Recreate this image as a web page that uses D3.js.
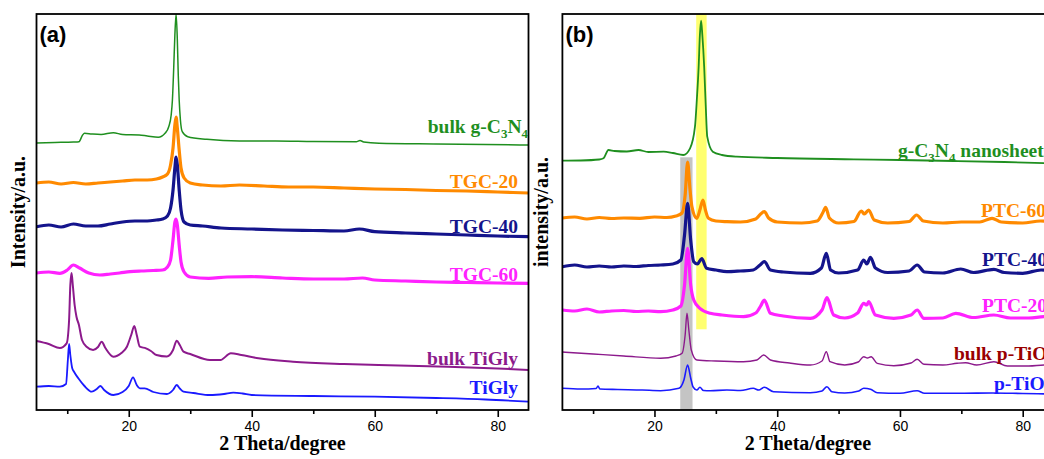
<!DOCTYPE html>
<html><head><meta charset="utf-8">
<script src="https://cdn.jsdelivr.net/npm/d3@7"></script>
<style>
html,body{margin:0;padding:0;background:#fff;overflow:hidden;}
svg{display:block;}
</style></head>
<body>
<svg id="chart" width="1044" height="459"></svg>
<script>
// ---------- DATA (2θ in degrees, intensity in arbitrary units) ----------
const thetaDomain = [5, 85];
const intensityDomain = [0, 396];
const majorTicks = [20, 40, 60, 80];
const minorTicks = [10, 30, 50, 70];

// Panel (a)
const bulkGCN_a = [[5,267],[8,267.5],[11,268],[11.9,268.3],[12.5,275],[12.8,276.7],[14,276],[15.5,275.5],[17.5,277.3],[19,275.5],[21.7,275],[23,274],[24.8,272.7],[25.9,276.7],[26.5,283.3],[26.9,295],[27.1,310],[27.3,340],[27.5,375],[27.7,396],[27.9,370],[28.05,335],[28.2,310],[28.4,290],[28.7,278.3],[29.6,273.3],[32.7,270.7],[38,269],[43.9,269],[50,268.5],[57,268.3],[57.6,269.5],[58.2,268],[60.7,266.7],[70,266],[78,265.5],[85,265]];
const tgc20_a = [[5,227],[7,228],[9,226],[11,227.5],[13,226],[15,227],[17,228],[19,229],[21,230],[23,230],[24.5,231],[25.5,233],[26.3,236],[26.8,245],[27.2,262],[27.5,285],[27.7,293],[27.9,282],[28.2,260],[28.5,242],[29,232],[30,227],[32,225],[35,224],[38,225],[42,224],[46,223],[50,223],[55,222],[60,221],[65,220.5],[70,219.5],[75,219],[80,218],[85,217]];
const tgc40_a = [[5,183.3],[7,185],[9,183],[11,186],[13,184],[15,184],[17,186],[19,188],[21,189],[23,189],[24.5,190],[25.5,191],[26.3,194],[26.8,202],[27.2,220],[27.5,242],[27.7,253],[27.9,245],[28.2,220],[28.5,200],[29,188],[30,185],[32,184],[35,182],[40,181],[45,180],[50,179.5],[55,179],[57.5,181],[60,178.3],[65,177],[70,176],[75,175],[80,174],[85,173.3]];
const tgc60_a = [[5,137],[7,138],[8.8,136.7],[10,140],[11,145],[12,142],[13.5,137],[15.3,135],[17,136],[18.5,137],[20.2,138.3],[22,139],[24,139.5],[25.5,140],[26.3,143],[26.8,150],[27.2,170],[27.5,188],[27.7,191],[27.9,185],[28.2,165],[28.5,148],[29,138],[30,133],[33,131.7],[36,133],[40,133.3],[45,132],[50,131],[55,131],[58,132],[60,130],[65,129],[70,128],[75,127.5],[80,127],[85,126.7]];
const bulkTiGly_a = [[5,69],[7,66],[8.8,62],[9.9,66.7],[10.3,90],[10.5,125],[10.7,137],[10.9,125],[11.2,105],[11.5,93.3],[11.9,85],[12.4,70],[13.2,63],[14.2,60],[15,63],[15.6,68.3],[16.2,62],[17.5,53.3],[18.8,57],[19.7,63.3],[20.4,75],[20.9,84],[21.3,75],[21.8,63.3],[22.8,61.7],[23.6,59],[24.5,55],[26.2,53.5],[27.2,60],[27.8,69.3],[28.3,65],[28.9,58.3],[30,56],[33.2,50],[34.9,50],[36.6,56.7],[38.3,55],[41.1,51.7],[46.7,48.3],[55,46],[60.6,45],[71.9,43.3],[80,41.5],[85,40]];
const tiGly_a = [[5,23.3],[7,24],[8.8,23.3],[9.8,26],[10.1,50],[10.3,66],[10.5,55],[10.8,42],[11.1,38.3],[11.8,31.7],[12.8,24],[14,18.3],[14.8,21],[15.4,24],[16,20],[17.5,15],[19,18],[20,24],[20.7,32.7],[21.3,25],[21.8,21.7],[22.6,21.7],[24,18],[26.2,16],[27.2,20],[27.8,25],[28.3,21.5],[28.9,18.3],[30.5,17],[33.2,15],[35.5,16],[37,17.3],[38.5,16.5],[40,15],[50,14],[60,13.3],[70,12],[78,10.5],[85,8.3]];

// Panel (b)
const nanosheet_b = [[5,249.3],[8,249.5],[11,250.5],[11.7,251.7],[12.5,260],[13.5,259],[15.5,258.5],[17.4,260],[19,258],[21.5,258.3],[23,257],[24.7,255],[25.8,261.7],[26.6,283.3],[26.9,310],[27.2,343.3],[27.4,375],[27.6,389.3],[27.8,375],[28.1,343.3],[28.35,305],[28.6,273.3],[29.5,258.3],[31,255],[33.4,253.3],[40,252],[52.5,250.7],[60,250],[68.8,249],[77,248],[85,246.5]];
const ptc60_b = [[5,192],[7,193],[9,191],[11,192.5],[13,191.5],[15,192],[17.6,191.7],[20,193],[22,192.5],[23.5,194],[24.5,197],[25,215],[25.4,248],[25.8,220],[26.1,203.3],[26.9,191.7],[27.4,200],[27.9,210],[28.3,200],[28.8,191.7],[30,189],[31.8,188.3],[34,188],[36.5,191],[37.3,196],[37.9,198.3],[38.6,192],[40,188],[44,187],[46.5,189],[47.4,197],[47.9,202.7],[48.5,192],[50,187],[52.5,188.5],[53.7,199],[54.2,196],[54.9,200],[55.8,190],[58,187],[61.5,188.5],[62.7,195],[63.8,189],[67,187],[70,188],[73,188],[75,191.7],[76.5,188],[80,187],[82.9,189],[85,188]];
const ptc40_b = [[5,143.3],[7,145],[9,143],[11,144],[13,143],[15,144],[17,143.5],[19,144.5],[21,145],[23,146],[24.3,150],[24.9,175],[25.4,206.7],[25.9,170],[26.4,148.3],[27,146],[27.7,151.5],[28.5,141.7],[30,140],[31.8,138.3],[34,139],[36.1,140],[37.2,145],[37.9,148.3],[38.9,140],[41,138],[45.4,136.7],[47.2,142],[48,156.7],[48.7,140],[50,137],[53.1,140],[54.1,150],[54.6,146],[55.2,152.7],[56,142],[58,137.5],[61.5,139],[62.8,145],[64,138],[67,137],[69.9,141],[72,137.5],[75.3,140.7],[77,137.5],[80,136.7],[83,140],[85,138]];
const ptc20_b = [[5,100],[7,99],[9,101],[11,98],[13,99],[15,99.5],[17,98.5],[19,99],[21,98.3],[23,100],[24.3,104],[24.9,125],[25.4,161.7],[25.9,125],[26.4,110],[27.4,101.7],[29.1,96.7],[31,95],[34.5,93.3],[36.5,97],[37.3,104],[37.9,110],[38.9,96.7],[41,94],[45.4,91.7],[47.3,100],[48.1,112.3],[49.2,95],[51,92],[53.1,97],[54.1,106.7],[54.6,105],[54.9,108.3],[56,95],[59,91.7],[61.8,95],[62.8,100],[63.9,91.7],[67,92],[69.1,96.7],[72,92.5],[75.3,95],[78,92],[81,92],[83.6,93.3],[85,92]];
const bulkPTiO2_b = [[5,58],[10,56],[15,54],[21,51.7],[23.5,54],[24.5,56.7],[25,75],[25.3,96.7],[25.6,80],[26,60],[26.9,50],[30,49],[34.5,48.3],[36.7,50],[37.8,55],[38.9,50],[42,47],[45.4,45],[47.3,49],[48,58.3],[48.6,48.3],[51,45],[53.2,48],[54.1,53.3],[54.7,52],[55.3,53.3],[56.3,46.7],[59,44.3],[61.8,47],[62.8,50.7],[63.9,45.7],[67,45],[69.3,46.7],[70.7,47.3],[72.5,45],[75.3,48.3],[77.5,44],[81,44],[83.6,45],[85,44]];
const pTiO2_b = [[5,21.7],[8,21],[10.5,21.5],[10.8,24],[11.1,21],[14,20.5],[18,20],[21,19.3],[24,21.7],[24.8,30],[25.4,45],[25.9,32],[26.3,23],[26.9,20],[27.4,22.7],[28,19.5],[29.1,19.3],[31.8,20],[34,19.5],[36.1,21.7],[37,20],[37.9,22.7],[39.4,18.3],[45.4,17.3],[47.3,19],[48.1,23.3],[48.9,18.3],[51,17],[53.3,19],[54.1,21.7],[55.2,20.7],[56.3,17.3],[60,16.7],[62.8,19.3],[64,16.7],[70,16.7],[75,17],[80,16.5],[85,16]];

// Highlight bands in panel (b): [theta start, theta end, intensity bottom, intensity top]
const grayBand = [24.2, 26.2, 0, 252.7];
const yellowBand = [26.8, 28.5, 80.7, 396];

// Labels
const panelA_names = ["bulk g-C3N4", "TGC-20", "TGC-40", "TGC-60", "bulk TiGly", "TiGly"];
const panelB_names = ["g-C3N4 nanosheets", "PTC-60", "PTC-40", "PTC-20", "bulk p-TiO2", "p-TiO2"];

// ---------- DRAWING ----------
const svg = d3.select("#chart");
const serif = "'Liberation Serif','Times New Roman',serif";
const sans = "'Liberation Sans',Arial,sans-serif";

const panels = [
  {id:"a", left:36.5, right:528.5, tag:"(a)", ytitle:"Intensity/a.u.", ytitleX:25,
   series:[
     {data:bulkGCN_a, color:"#1f8f1f", w:1.5},
     {data:tgc20_a, color:"#ff8a00", w:3.2},
     {data:tgc40_a, color:"#14148c", w:3.2},
     {data:tgc60_a, color:"#ff22ff", w:3.2},
     {data:bulkTiGly_a, color:"#8c1a8c", w:2},
     {data:tiGly_a, color:"#1a1aff", w:1.8}],
   labels:[
     {name:panelA_names[0], color:"#1f8f1f", x:528, y:133, anchor:"end"},
     {name:panelA_names[1], color:"#ff8a00", x:518, y:188, anchor:"end"},
     {name:panelA_names[2], color:"#14148c", x:518, y:233, anchor:"end"},
     {name:panelA_names[3], color:"#ff22ff", x:518, y:281, anchor:"end"},
     {name:panelA_names[4], color:"#8c1a8c", x:518, y:365, anchor:"end"},
     {name:panelA_names[5], color:"#1a1aff", x:518, y:394, anchor:"end"}]},
  {id:"b", left:562.4, right:1053.4, tag:"(b)", ytitle:"intensity/a.u.", ytitleX:548,
   series:[
     {data:nanosheet_b, color:"#1f8f1f", w:1.8},
     {data:ptc60_b, color:"#ff8a00", w:3.2},
     {data:ptc40_b, color:"#14148c", w:3.2},
     {data:ptc20_b, color:"#ff22ff", w:3.2},
     {data:bulkPTiO2_b, color:"#8c1a8c", w:1.4},
     {data:pTiO2_b, color:"#1a1aff", w:1.6}],
   labels:[
     {name:panelB_names[0], color:"#1f8f1f", x:898, y:157, anchor:"start"},
     {name:panelB_names[1], color:"#ff8a00", x:981, y:217, anchor:"start"},
     {name:panelB_names[2], color:"#14148c", x:982, y:266, anchor:"start"},
     {name:panelB_names[3], color:"#ff22ff", x:982, y:312, anchor:"start"},
     {name:panelB_names[4], color:"#990000", x:954, y:360, anchor:"start"},
     {name:panelB_names[5], color:"#1a1aff", x:994, y:390, anchor:"start"}]}
];

const plotTop = 14, plotBottom = 410;

function addLabel(g, txt, x, y, color, anchor){
  const t = g.append("text").attr("x", x).attr("y", y).attr("text-anchor", anchor)
    .attr("fill", color).style("font-family", serif).style("font-weight", "bold")
    .style("font-size", "19.5px");
  let sub = false;
  const re = /([CNO])(\d)|([^CNO]+|[CNO])/g;
  let m;
  while ((m = re.exec(txt)) !== null) {
    if (m[1]) {
      t.append("tspan").attr("dy", sub ? -5 : 0).text(m[1]);
      t.append("tspan").attr("dy", 5).style("font-size", "13px").text(m[2]);
      sub = true;
    } else {
      t.append("tspan").attr("dy", sub ? -5 : 0).text(m[3]);
      sub = false;
    }
  }
}

panels.forEach(p => {
  const x = d3.scaleLinear().domain(thetaDomain).range([p.left, p.right]);
  const y = d3.scaleLinear().domain(intensityDomain).range([plotBottom, plotTop]);
  const g = svg.append("g");

  const clipId = "clip-" + p.id;
  svg.append("clipPath").attr("id", clipId).append("rect")
    .attr("x", p.left).attr("y", plotTop).attr("width", p.right - p.left).attr("height", plotBottom - plotTop);

  const plot = g.append("g").attr("clip-path", `url(#${clipId})`);

  if (p.id === "b") {
    plot.append("rect").attr("x", x(grayBand[0])).attr("width", x(grayBand[1]) - x(grayBand[0]))
      .attr("y", y(grayBand[3])).attr("height", y(grayBand[2]) - y(grayBand[3])).attr("fill", "#c4c4c4");
    plot.append("rect").attr("x", x(yellowBand[0])).attr("width", x(yellowBand[1]) - x(yellowBand[0]))
      .attr("y", y(yellowBand[3])).attr("height", y(yellowBand[2]) - y(yellowBand[3])).attr("fill", "#ffff70");
  }

  const line = d3.line().x(d => x(d[0])).y(d => y(d[1])).curve(d3.curveMonotoneX);
  p.series.forEach(s => {
    plot.append("path").datum(s.data).attr("d", line).attr("fill", "none")
      .attr("stroke", s.color).attr("stroke-width", s.w).attr("stroke-linejoin", "round");
  });

  g.append("rect").attr("x", p.left).attr("y", plotTop).attr("width", p.right - p.left)
    .attr("height", plotBottom - plotTop).attr("fill", "none").attr("stroke", "#000").attr("stroke-width", 1.8);

  const major = d3.axisBottom(x).tickValues(majorTicks).tickSize(7).tickPadding(4).tickFormat(d3.format("d"));
  const minor = d3.axisBottom(x).tickValues(minorTicks).tickSize(4).tickFormat("");
  const ga = g.append("g").attr("transform", `translate(0,${plotBottom})`).call(major);
  const gm = g.append("g").attr("transform", `translate(0,${plotBottom})`).call(minor);
  [ga, gm].forEach(a => {
    a.select(".domain").remove();
    a.selectAll("line").attr("stroke", "#000").attr("stroke-width", 1.6);
  });
  ga.selectAll("text").style("font-family", sans).style("font-size", "14px").attr("fill", "#000");

  g.append("text").attr("x", (p.left + p.right) / 2).attr("y", 450).attr("text-anchor", "middle")
    .style("font-family", serif).style("font-weight", "bold").style("font-size", "20px")
    .text("2 Theta/degree");

  g.append("text").attr("transform", `translate(${p.ytitleX},${(plotTop + plotBottom) / 2}) rotate(-90)`)
    .attr("text-anchor", "middle").style("font-family", serif).style("font-weight", "bold")
    .style("font-size", "20px").text(p.ytitle);

  g.append("text").attr("x", p.left + 3).attr("y", 42)
    .style("font-family", sans).style("font-weight", "bold").style("font-size", "22px").text(p.tag);

  p.labels.forEach(l => addLabel(g, l.name, l.x, l.y, l.color, l.anchor));
});
</script>
</body></html>
